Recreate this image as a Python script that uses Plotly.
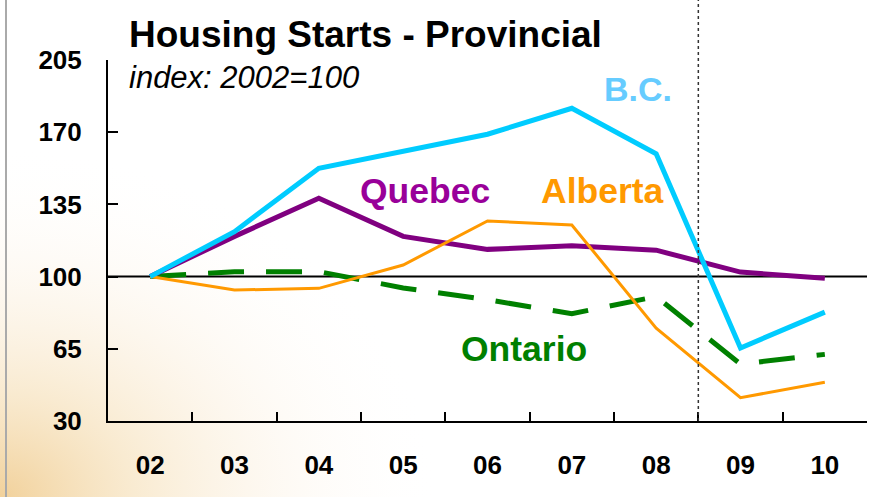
import base64
import plotly.graph_objects as go

# ---- data ----
years = ["02", "03", "04", "05", "06", "07", "08", "09", "10"]
bc = [100, 121.8, 152.5, 160.5, 169.0, 181.6, 159.5, 65.4, 82.8]
quebec = [100, 119.5, 138.0, 119.5, 113.2, 115.0, 112.8, 102.2, 99.2]
alberta = [100, 93.5, 94.3, 105.6, 127.0, 125.0, 75.0, 41.3, 48.8]
ontario = [100, 102.4, 102.4, 94.5, 88.8, 82.0, 90.3, 57.6, 62.3]
y_ticks = [30, 65, 100, 135, 170, 205]

FONT = "Liberation Sans, Arial, sans-serif"

# ---- background gradient (bottom-left glow) ----
svg = """<svg xmlns='http://www.w3.org/2000/svg' width='875' height='497' viewBox='0 0 875 497'>
<defs>
<radialGradient id='g' cx='0' cy='497' r='440' gradientUnits='userSpaceOnUse' gradientTransform='translate(0,497) scale(1,0.8) translate(0,-497)'>
<stop offset='0' stop-color='#F0CC90' stop-opacity='0.9'/>
<stop offset='0.3' stop-color='#F5DDB2' stop-opacity='0.6'/>
<stop offset='0.65' stop-color='#FBEEDB' stop-opacity='0.3'/>
<stop offset='1' stop-color='#FFFFFF' stop-opacity='0'/>
</radialGradient>
</defs>
<rect width='875' height='497' fill='#FFFFFF'/>
<rect width='875' height='497' fill='url(#g)'/>
</svg>"""
bg_src = "data:image/svg+xml;base64," + base64.b64encode(svg.encode()).decode()

fig = go.Figure()

fig.add_trace(go.Scatter(x=years, y=ontario, mode="lines",
                         line=dict(color="#008000", width=5, dash="36px,22px")))
fig.add_trace(go.Scatter(x=years, y=quebec, mode="lines",
                         line=dict(color="#800080", width=5)))
fig.add_trace(go.Scatter(x=years, y=alberta, mode="lines",
                         line=dict(color="#FF9900", width=3)))
fig.add_trace(go.Scatter(x=years, y=bc, mode="lines",
                         line=dict(color="#00CCFF", width=5)))

L, R, T, B = 108, 8, 60, 76
W, H = 875, 497
pw, ph = W - L - R, H - T - B

fig.update_layout(
    width=W, height=H,
    margin=dict(l=L, r=R, t=T, b=B, pad=0, autoexpand=False),
    paper_bgcolor="white",
    plot_bgcolor="rgba(0,0,0,0)",
    showlegend=False,
    images=[dict(source=bg_src, xref="paper", yref="paper",
                 x=-L / pw, y=1 + T / ph, sizex=W / pw, sizey=H / ph,
                 sizing="stretch", xanchor="left", yanchor="top", layer="below")],
)

fig.update_xaxes(
    type="category", range=[-0.5, 8.5], automargin=False,
    showgrid=False, zeroline=False,
    showline=True, linecolor="black", linewidth=2,
    ticks="inside", ticklen=9, tickwidth=2, tickcolor="black",
    tickson="boundaries",
    tickfont=dict(family=FONT, size=26, color="black", weight="bold"),
    ticklabelstandoff=20,
)
fig.update_yaxes(
    range=[30, 205], tickvals=y_ticks, automargin=False,
    showgrid=False, zeroline=False,
    showline=True, linecolor="black", linewidth=2,
    ticks="inside", ticklen=10, tickwidth=2, tickcolor="black",
    tickfont=dict(family=FONT, size=26, color="black", weight="bold"),
    ticklabelstandoff=19,
)

shapes = [
    # reference line at 100
    dict(type="line", xref="paper", yref="y", x0=0, x1=1, y0=100, y1=100,
         line=dict(color="black", width=2), layer="below"),
    # dotted separator between actual and forecast
    dict(type="line", xref="x", yref="paper", x0=6.5, x1=6.5, y0=0, y1=1 + T / ph,
         line=dict(color="#333333", width=1.5, dash="dot")),
    # grey frame line at far left
    dict(type="line", xref="paper", yref="paper", x0=-(L - 6) / pw, x1=-(L - 6) / pw,
         y0=-B / ph, y1=1 + T / ph, line=dict(color="#AAAAAA", width=2)),
]
fig.update_layout(shapes=shapes)

def px_x(px):
    return (px - L) / pw

def px_y(py):
    return (H - B - py) / ph

annotations = [
    dict(text="<b>Housing Starts - Provincial</b>", x=px_x(127), y=px_y(34),
         font=dict(family=FONT, size=37, color="black")),
    dict(text="<i>index: 2002=100</i>", x=px_x(127), y=px_y(78),
         font=dict(family=FONT, size=31, color="black")),
]
for a in annotations:
    a.update(xref="paper", yref="paper", xanchor="left", yanchor="middle", showarrow=False)

labels = [
    ("B.C.", 638, 89, "#66CCFF", 34),
    ("Quebec", 425, 191, "#990099", 35.5),
    ("Alberta", 602, 191, "#FF9900", 35.5),
    ("Ontario", 524, 349, "#008000", 35.5),
]
for txt, cx, cy, col, sz in labels:
    annotations.append(dict(text="<b>%s</b>" % txt, x=px_x(cx), y=px_y(cy),
                            xref="paper", yref="paper", xanchor="center", yanchor="middle",
                            showarrow=False, font=dict(family=FONT, size=sz, color=col)))
fig.update_layout(annotations=annotations)

fig.write_html("out.html", config={"displayModeBar": False})

# remove the default page margin so the figure sits at the window origin
with open("out.html", "r", encoding="utf-8") as f:
    html = f.read()
html = html.replace("<head>", "<head><style>html,body{margin:0;padding:0;overflow:hidden;}</style>", 1)
with open("out.html", "w", encoding="utf-8") as f:
    f.write(html)
